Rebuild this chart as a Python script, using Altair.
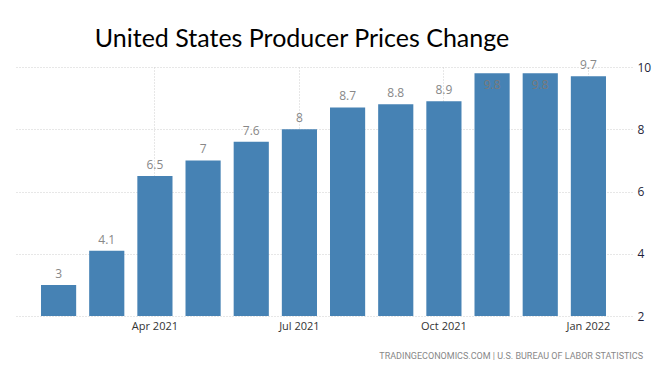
import altair as alt
import pandas as pd

months = ["Feb 2021", "Mar 2021", "Apr 2021", "May 2021", "Jun 2021", "Jul 2021",
          "Aug 2021", "Sep 2021", "Oct 2021", "Nov 2021", "Dec 2021", "Jan 2022"]
values = [3.0, 4.1, 6.5, 7.0, 7.6, 8.0, 8.7, 8.8, 8.9, 9.8, 9.8, 9.7]
labels = ["3", "4.1", "6.5", "7", "7.6", "8", "8.7", "8.8", "8.9", "9.8", "9.8", "9.7"]
tick_months = ["Apr 2021", "Jul 2021", "Oct 2021", "Jan 2022"]
y_ticks = [2, 4, 6, 8, 10]

df = pd.DataFrame({"month": months, "value": values, "label": labels})
df["inside"] = [v >= 9.75 for v in values]

x = alt.X("month:N", sort=months, title=None,
          scale=alt.Scale(paddingInner=0.27, paddingOuter=0.54),
          axis=alt.Axis(values=tick_months, labelAngle=0, grid=True, bandPosition=0.5,
                        gridDash=[1, 2], gridColor="#cfcfcf", ticks=False, domain=False,
                        labelColor="#333333", labelFont="Open Sans", labelFontSize=11,
                        labelPadding=4))
y_scale = alt.Scale(domain=[2, 10], nice=False, zero=False)

base = alt.Chart(df)

bars = base.mark_bar(color="#4682b4").encode(
    x=x,
    y=alt.Y("value:Q", scale=y_scale, title=None,
            axis=alt.Axis(orient="right", values=y_ticks, grid=True, gridDash=[1, 2],
                          gridColor="#cfcfcf", ticks=False, domain=False,
                          labelColor="#1f1f3a", labelFont="Open Sans", labelFontSize=12,
                          labelPadding=5)),
    y2=alt.datum(2),
)

text_above = base.transform_filter("!datum.inside").mark_text(
    color="#888888", font="Open Sans", fontSize=12, baseline="alphabetic", dy=-7
).encode(
    x=alt.X("month:N", sort=months),
    y=alt.Y("value:Q", scale=y_scale),
    text="label:N",
)

text_inside = base.transform_filter("datum.inside").mark_text(
    color="#7a7a7a", font="Open Sans", fontSize=12, baseline="alphabetic", dy=16
).encode(
    x=alt.X("month:N", sort=months),
    y=alt.Y("value:Q", scale=y_scale),
    text="label:N",
)

title = alt.Chart(pd.DataFrame({"t": ["United States Producer Prices Change"]})).mark_text(
    font="Lato", fontSize=25, color="#000000", align="center", baseline="alphabetic"
).encode(x=alt.value(287), y=alt.value(-20), text="t:N")

source = alt.Chart(pd.DataFrame({"t": ["TRADINGECONOMICS.COM | U.S. BUREAU OF LABOR STATISTICS"]})).mark_text(
    font="Roboto", fontSize=9, color="#888888", align="right", baseline="middle"
).encode(x=alt.value(628), y=alt.value(289), text="t:N")

chart = alt.layer(bars, text_above, text_inside, title, source).properties(
    width=617, height=249,
    autosize=alt.AutoSizeParams(type="none"),
    padding={"left": 7, "top": 59, "right": 20, "bottom": 45},
).configure_view(stroke=None)

chart.save("out.html", embed_options={"renderer": "svg", "actions": False})
